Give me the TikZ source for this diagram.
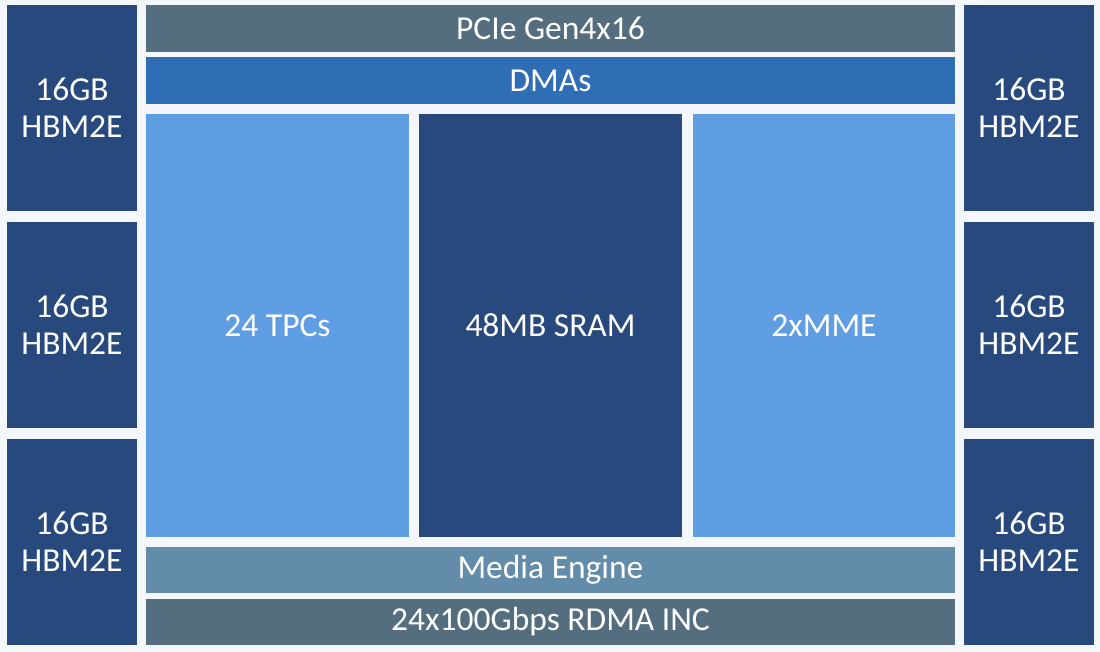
\documentclass[tikz,border=0pt]{standalone}
\usepackage{fontspec}
\setmainfont{Carlito}
\usepackage{tikz}
\usetikzlibrary{positioning}
\definecolor{bgcol}{RGB}{243,246,251}
\definecolor{hbmcol}{RGB}{39,73,125}
\definecolor{pciecol}{RGB}{84,110,128}
\definecolor{dmacol}{RGB}{47,110,180}
\definecolor{tpccol}{RGB}{96,158,228}
\definecolor{mediacol}{RGB}{99,139,170}
\tikzstyle{block}=[rectangle, inner sep=0pt, text=white, align=center, font=\fontsize{33.5}{37}\selectfont]
\tikzstyle{hbm}=[block, fill=hbmcol, minimum width=130pt, minimum height=206pt]
\tikzstyle{bar}=[block, minimum width=809pt, minimum height=47pt]
\tikzstyle{core}=[block, minimum width=263pt, minimum height=423pt]

\begin{document}
\begin{tikzpicture}[x=1pt, y=-1pt]
          \fill[bgcol] (0,0) rectangle (1100,652);
          % memory stacks
          \node[hbm] (hbmL1) at (72,108) {16GB\\HBM2E};
          \node[hbm] (hbmL2) at (72,325) {16GB\\HBM2E};
          \node[hbm] (hbmL3) at (72,542) {16GB\\HBM2E};
          \node[hbm] (hbmR1) at (1029,108) {16GB\\HBM2E};
          \node[hbm] (hbmR2) at (1029,325) {16GB\\HBM2E};
          \node[hbm] (hbmR3) at (1029,542) {16GB\\HBM2E};
          % top and bottom bars
          \node[bar, fill=pciecol] (pcie) at (550.5,28.5) {PCIe Gen4x16};
          \node[bar, fill=dmacol] (dma) at (550.5,80.5) {DMAs};
          \node[bar, fill=mediacol, minimum height=46pt] (media) at (550.5,570) {Media Engine};
          \node[bar, fill=pciecol, minimum height=46pt] (rdma) at (550.5,622) {24x100Gbps RDMA INC};
          % compute
          \node[core, fill=tpccol] (tpc) at (277.5,325.5) {24 TPCs};
          \node[core, fill=hbmcol] (sram) at (550.5,325.5) {48MB SRAM};
          \node[core, fill=tpccol, minimum width=262pt] (mme) at (824,325.5) {2xMME};
        \end{tikzpicture}
\end{document}
